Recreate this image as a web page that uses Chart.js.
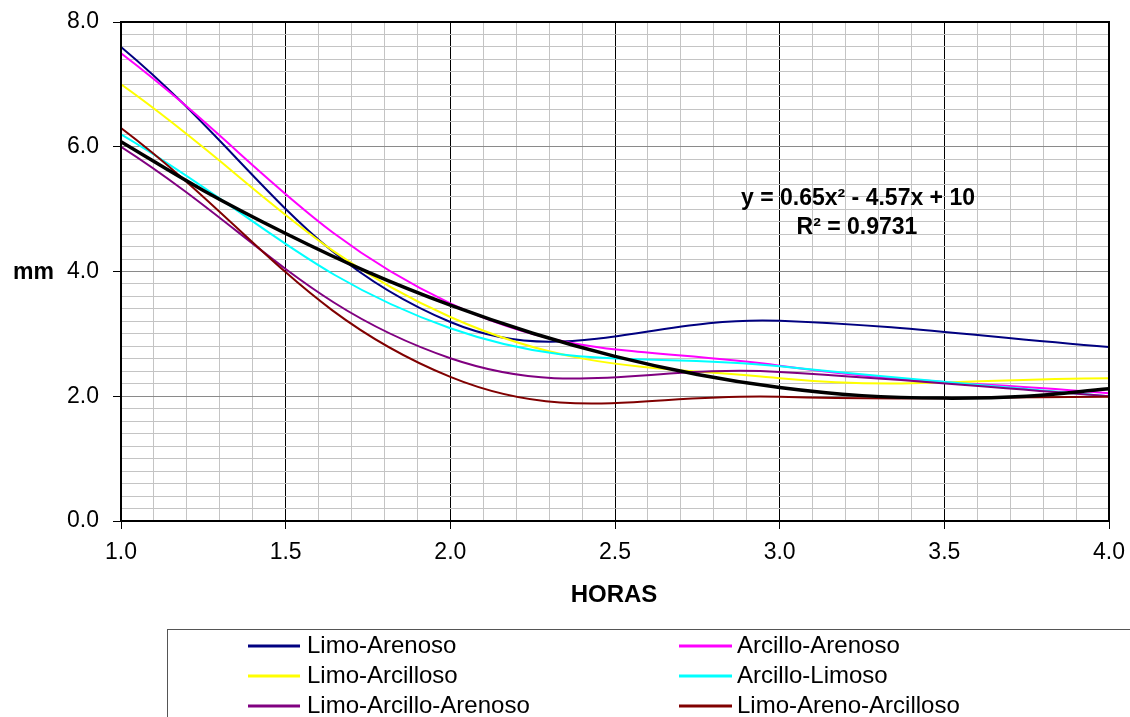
<!DOCTYPE html>
<html>
<head>
<meta charset="utf-8">
<script src="https://cdn.jsdelivr.net/npm/chart.js@4/dist/chart.umd.min.js"></script>
<style>
  html, body { margin: 0; padding: 0; background: #ffffff; }
  #wrap { width: 1130px; height: 717px; overflow: hidden; }
</style>
</head>
<body>
<div id="wrap"><canvas id="c" width="1130" height="717"></canvas></div>
<script>
// ---- data ----
const hours = [1.0, 2.0, 3.0, 4.0];
const limoArenoso        = [7.6, 3.19, 3.21, 2.79];
const arcilloArenoso     = [7.5, 3.49, 2.49, 2.05];
const limoArcilloso      = [7.0, 3.27, 2.29, 2.29];
const arcilloLimoso      = [6.2, 3.09, 2.48, 2.0];
const limoArcilloArenoso = [6.0, 2.61, 2.39, 2.0];
const limoArenoArcilloso = [6.3, 2.31, 1.99, 1.99];

const seriesLabels = ['Limo-Arenoso', 'Arcillo-Arenoso', 'Limo-Arcilloso',
                      'Arcillo-Limoso', 'Limo-Arcillo-Arenoso', 'Limo-Areno-Arcilloso'];
const seriesColors = ['#000080', '#FF00FF', '#FFFF00', '#00FFFF', '#800080', '#800000'];
const seriesValues = [limoArenoso, arcilloArenoso, limoArcilloso,
                      arcilloLimoso, limoArcilloArenoso, limoArenoArcilloso];

// black polynomial trend line
const trendX = [1.0, 1.25, 1.5, 1.75, 2.0, 2.25, 2.5, 2.75, 3.0, 3.25, 3.5, 3.75, 4.0];
const trendY = [6.08, 5.30, 4.61, 3.99, 3.46, 3.01, 2.64, 2.35, 2.14, 2.01, 1.97, 2.00, 2.12];

const equationLines = ['y = 0.65x\u00B2 - 4.57x + 10', 'R\u00B2 = 0.9731'];
const xTitle = 'HORAS';
const yTitle = 'mm';

const FONT = "'Liberation Sans', Arial, sans-serif";

const datasets = [{
  label: 'trend',
  data: trendX.map((x, i) => ({ x: x, y: trendY[i] })),
  borderColor: '#000000',
  borderWidth: 3.5,
  pointRadius: 0,
  tension: 0.4,
  order: 0,
  isTrend: true
}];
seriesValues.forEach((vals, k) => {
  datasets.push({
    label: seriesLabels[k],
    data: hours.map((x, i) => ({ x: x, y: vals[i] })),
    borderColor: seriesColors[k],
    borderWidth: 2,
    pointRadius: 0,
    tension: 0.4,
    order: 10 - k
  });
});

const isMult = (v, step) => Math.abs(v / step - Math.round(v / step)) < 1e-6;

const decorPlugin = {
  id: 'decor',
  afterDatasetsDraw(chart) {
    const ctx = chart.ctx;
    const a = chart.chartArea;
    ctx.save();
    // plot frame
    ctx.strokeStyle = '#000000';
    ctx.lineWidth = 2;
    ctx.strokeRect(a.left, a.top, a.right - a.left, a.bottom - a.top);

    // equation text
    ctx.fillStyle = '#000000';
    ctx.font = 'bold 23px ' + FONT;
    ctx.textAlign = 'center';
    ctx.textBaseline = 'middle';
    ctx.fillText(equationLines[0], 858, 199);
    ctx.fillText(equationLines[1], 857, 228);

    // y title (horizontal)
    ctx.textAlign = 'left';
    ctx.fillText(yTitle, 13, 273);

    // x title
    ctx.font = 'bold 24px ' + FONT;
    ctx.textAlign = 'center';
    ctx.fillText(xTitle, 614, 595);

    // legend box
    ctx.strokeStyle = '#555555';
    ctx.lineWidth = 1;
    ctx.strokeRect(167.5, 629.5, 1100, 200);
    ctx.font = '24px ' + FONT;
    ctx.textAlign = 'left';
    ctx.textBaseline = 'middle';
    const colLine = [[248, 300, 307], [679, 732, 737]];
    const rowY = [646, 676, 706];
    const items = chart.data.datasets.filter(d => !d.isTrend);
    items.forEach((d, i) => {
      const col = colLine[i % 2];
      const y = rowY[Math.floor(i / 2)];
      ctx.strokeStyle = d.borderColor;
      ctx.lineWidth = 3;
      ctx.beginPath();
      ctx.moveTo(col[0], y);
      ctx.lineTo(col[1], y);
      ctx.stroke();
      ctx.fillStyle = '#000000';
      ctx.fillText(d.label, col[2], y);
    });
    ctx.restore();
  }
};

new Chart(document.getElementById('c'), {
  type: 'line',
  data: { datasets: datasets },
  plugins: [decorPlugin],
  options: {
    responsive: false,
    devicePixelRatio: 1,
    animation: false,
    layout: { padding: { left: 0, top: 22, right: 21, bottom: 0 } },
    plugins: { legend: { display: false }, tooltip: { enabled: false } },
    scales: {
      x: {
        type: 'linear',
        min: 1, max: 4,
        afterFit(scale) {
          scale.height = 196;
          scale.paddingLeft = 0; scale.paddingRight = 0;
        },
        border: { color: '#000000', width: 2 },
        grid: {
          color: ctx => isMult(ctx.tick.value, 0.5) ? '#000000' : '#c4c4c4',
          lineWidth: 1,
          tickLength: 8,
          tickColor: ctx => isMult(ctx.tick.value, 0.5) ? '#000000' : 'rgba(0,0,0,0)'
        },
        ticks: {
          stepSize: 0.1,
          autoSkip: false,
          maxRotation: 0,
          padding: 10,
          color: '#000000',
          font: { family: FONT, size: 23 },
          callback: v => isMult(v, 0.5) ? Number(v).toFixed(1) : ''
        }
      },
      y: {
        min: 0, max: 8,
        afterFit(scale) {
          scale.width = 121;
          scale.paddingTop = 0; scale.paddingBottom = 0;
        },
        border: { color: '#000000', width: 2 },
        grid: {
          color: ctx => isMult(ctx.tick.value, 2) ? '#8a8a8a' : '#c4c4c4',
          lineWidth: 1,
          tickLength: 8,
          tickColor: ctx => isMult(ctx.tick.value, 2) ? '#000000' : 'rgba(0,0,0,0)'
        },
        ticks: {
          stepSize: 0.2,
          autoSkip: false,
          padding: 14,
          color: '#000000',
          font: { family: FONT, size: 23 },
          callback: v => isMult(v, 2) ? Number(v).toFixed(1) : ''
        }
      }
    }
  }
});
</script>
</body>
</html>
